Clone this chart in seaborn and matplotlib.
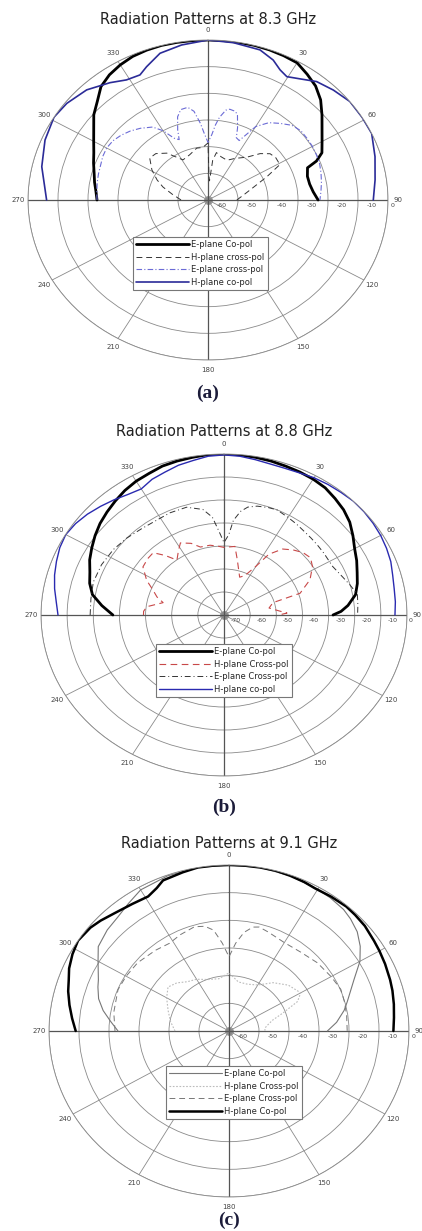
import numpy as np
import matplotlib
matplotlib.use("Agg")
import matplotlib.pyplot as plt
import seaborn as sns

sns.set_style("white")
plt.rcParams['font.family'] = ['DejaVu Sans']

# ---------------- data (angles in degrees, values in dB) ----------------
# (a) 8.3 GHz, radial range -60..0 dB
a_eco_ang = [-90, -85, -80, -75, -70, -65, -60, -55, -50, -45, -40, -35, -30, -25, -20, -15, -10, -5, 0,
             5, 10, 15, 20, 25, 30, 35, 40, 45, 50, 55, 60, 65, 68, 70, 75, 80, 85, 90]
a_eco_db = [-23.0, -22.5, -21.6, -20.7, -19.4, -18.0, -16.0, -13.5, -10.3, -7.8, -4.5, -2.7, -1.5, -0.6, -0.2, 0, 0, 0, 0,
            0, 0, 0, -0.1, -0.3, -0.6, -2.4, -4.2, -6.9, -10.4, -13.6, -16.1, -18.1, -21.0, -24.7, -25.7, -25.6, -24.8, -23.3]

a_hco_ang = [-90, -77.3, -67.5, -58.8, -52.4, -44.4, -36.6, -31.1, -25.8, -22.3, -16.2, -8.6, 0,
             8.2, 17.1, 22.5, 26.2, 29.6, 34, 39.2, 45.4, 52, 58.9, 65.4, 73.7, 82.3, 90]
a_hco_db = [-6.2, -3.2, -1.2, 0, -0.6, -2.2, -5.2, -7.4, -7.9, -6.0, -2.7, -1.2, 0,
            -0.4, -1.1, -3.2, -5.6, -6.8, -5.2, -2.7, -1.3, 0, 0, 0, -2.0, -3.8, -4.9]

a_ex_ang = [-90, -85, -80, -75, -70, -65, -60, -55, -50, -45, -40, -34, -30, -26, -23, -21, -18, -15, -11, -8, -5, -3, 0,
            3, 5, 7, 10, 12, 15, 17, 20, 22, 25, 27, 30, 35, 40, 45, 50, 55, 60, 65, 70, 75, 80, 85, 90]
a_ex_db = [-23.0, -22.8, -22.5, -22.2, -21.9, -21.3, -21.0, -21.3, -22.2, -23.4, -24.9, -27.0, -30.0, -34.2, -35.4, -31.8,
           -27.2, -24.9, -24.6, -26.4, -31.2, -34.8, -38.4,
           -35.4, -31.8, -28.8, -25.8, -25.2, -25.5, -26.4, -31.2, -34.8, -35.4, -33.0, -28.2, -24.6, -22.5, -20.4,
           -19.6, -19.7, -19.8, -20.1, -20.4, -21.0, -21.6, -22.2, -22.7]

a_hx_ang = [-90, -85, -80, -72, -66, -59, -51, -45, -38, -29, -20, -11, -5, 0,
            2, 4, 6, 9, 15, 23, 30, 39, 45, 50, 55, 61, 66, 73, 81, 90]
a_hx_db = [-51.0, -49.8, -48.0, -44.2, -41.4, -38.2, -35.0, -35.4, -37.7, -42.8, -42.0, -40.2, -40.2, -38.6,
           -51.0, -52.8, -45.0, -42.0, -43.2, -43.8, -42.0, -39.3, -35.4, -33.0, -32.4, -32.6, -38.5, -44.4, -48.0, -50.4]

# (b) 8.8 GHz, radial range -70..0 dB
b_eco_ang = [-90, -85, -80, -75, -70, -65, -60, -55, -50, -45, -40, -35, -30, -25, -20, -15, -10, -5, 0,
             5, 10, 15, 20, 25, 30, 35, 40, 45, 50, 55, 60, 65, 70, 75, 80, 85, 88, 90]
b_eco_db = [-27.5, -23.1, -18.9, -16.8, -15.4, -13.3, -11.6, -9.8, -8.1, -6.7, -5.3, -3.9, -2.8, -2.1, -1.1, -0.7, -0.4, 0, 0,
            -0.1, -0.4, -0.7, -1.1, -1.4, -1.8, -2.5, -3.9, -5.3, -7.2, -9.8, -12.3, -14.0, -15.8, -17.2, -18.9, -22.4,
            -25.2, -28.3]

b_hco_ang = [-90, -85, -80, -75, -70, -65, -60, -55, -50, -45, -40, -35, -30, -25, -20, -15, -10, -5, 0,
             5, 10, 15, 20, 25, 30, 35, 40, 45, 50, 55, 60, 65, 70, 75, 80, 85, 90]
b_hco_db = [-6.5, -5.6, -4.2, -2.9, -1.8, -0.7, -0.1, -0.7, -1.8, -3.2, -4.6, -6.0, -6.7, -4.9, -3.9, -2.6, -1.8, -0.7, -0.4,
            -0.7, -1.4, -2.0, -2.1, -1.8, -1.1, -0.7, -0.4, 0, -0.1, -0.4, -0.8, -1.4, -2.1, -3.2, -3.9, -4.2, -4.6]

b_ex_ang = [-90, -82, -74, -65, -56, -48, -40, -32, -25, -17, -10, -6, -3, 0,
            3, 5, 8, 11, 15, 20, 24, 30, 35, 39, 45, 50, 55, 63, 70, 75, 80, 85, 90]
b_ex_db = [-18.8, -18.6, -18.0, -18.3, -19.0, -20.0, -21.0, -21.4, -21.0, -21.0, -23.4, -27.2, -33.6, -38.5,
           -35.0, -28.7, -24.5, -22.2, -21.0, -20.3, -20.0, -21.0, -21.7, -22.3, -22.8, -23.1, -23.3, -23.4,
           -21.7, -20.0, -18.2, -18.6, -18.9]

b_hx_ang = [-90, -87, -83, -77, -73, -68, -63, -56, -50, -45, -41, -37, -32, -28, -22, -17, -10, -5, 0,
            8, 12, 20, 25, 30, 33, 38, 43, 48, 53, 58, 65, 72, 74, 80, 85, 88, 90]
b_hx_db = [-39.2, -39.2, -40.3, -46.1, -43.2, -40.6, -36.8, -32.6, -31.9, -31.7, -35.7, -40.1, -37.1, -34.5, -36.4, -39.1,
           -39.2, -39.9, -40.6, -39.9, -45.5, -52.5, -51.1, -45.5, -38.5, -33.6, -31.3, -29.4, -28.6, -30.1, -33.7,
           -39.4, -50.5, -52.5, -49.0, -45.9, -49.0]

# (c) 9.1 GHz, radial range -60..0 dB
c_hco_ang = [-90, -85, -80, -75, -71, -67, -62, -57, -51, -47, -42, -35, -29, -25, -22, -15, -10, -5, 0,
             5, 10, 15, 20, 25, 29, 35, 41, 45, 50, 56, 60, 65, 71, 75, 80, 85, 90]
c_hco_db = [-8.9, -7.5, -6.0, -4.5, -3.5, -2.1, -0.9, 0, -0.6, -1.5, -2.8, -3.9, -4.4, -3.0, -1.3, -0.6, 0, 0, 0,
            0, 0, 0, -0.3, -0.6, -1.0, -0.7, -0.4, -0.6, -0.9, -1.7, -2.1, -2.6, -3.2, -3.6, -4.2, -4.8, -5.2]

c_eco_ang = [-90, -85, -80, -75, -70, -67, -60, -55, -48, -42, -36, -30, -20, -10, 0,
             10, 20, 30, 35, 41, 45, 50, 55, 60, 66, 70, 75, 79, 85, 90]
c_eco_db = [-23.0, -20.4, -17.4, -15.0, -13.5, -12.7, -9.6, -6.8, -5.4, -4.6, -3.0, -1.1, -0.3, 0, 0,
            0, -0.3, -0.9, -1.2, -1.8, -2.7, -4.2, -6.6, -9.6, -14.4, -16.8, -19.2, -20.9, -24.0, -27.2]

c_ex_ang = [-90, -80, -68, -60, -51, -40, -32, -25, -17, -12, -8, -4, 0,
            4, 8, 12, 15, 20, 30, 40, 50, 60, 68, 75, 82, 90]
c_ex_db = [-22.0, -21.0, -20.1, -20.4, -20.8, -21.9, -22.6, -21.6, -20.6, -21.3, -23.2, -28.2, -33.2,
           -28.2, -24.0, -21.6, -21.1, -21.9, -23.1, -22.8, -21.6, -20.7, -19.8, -20.1, -20.4, -20.6]

c_hx_ang = [-90, -80, -70, -60, -52, -45, -38, -30, -20, -10, 0,
            10, 20, 30, 40, 50, 60, 65, 70, 75, 80, 85, 90]
c_hx_db = [-42.0, -40.2, -38.4, -36.0, -34.2, -35.4, -37.4, -38.4, -40.2, -40.8, -39.0,
           -42.0, -42.0, -40.8, -37.2, -34.2, -32.4, -34.8, -40.8, -45.0, -46.8, -48.0, -48.0]

titles = ["Radiation Patterns at 8.3 GHz", "Radiation Patterns at 8.8 GHz", "Radiation Patterns at 9.1 GHz"]
captions = ["(a)", "(b)", "(c)"]
theta_labels = ["0", "30", "60", "90", "120", "150", "180", "210", "240", "270", "300", "330"]

# ---------------- layout (pixel geometry of the 422x1231 canvas) ----------------
W, H = 422, 1231
fig = plt.figure(figsize=(W / 100, H / 100), dpi=100)

panels = [
    dict(cx=208, cy=200, rx=180, ry=160, rmin=-60, title_y=20, cap_y=393,
         leg=(133, 237), series=[
             (a_eco_ang, a_eco_db, "E-plane Co-pol", dict(color="black", lw=2.0, ls="-")),
             (a_hx_ang, a_hx_db, "H-plane cross-pol", dict(color="#333333", lw=0.7, ls=(0, (6, 4)))),
             (a_ex_ang, a_ex_db, "E-plane cross-pol", dict(color="#6b6bd6", lw=0.8, ls=(0, (5, 2, 1, 2)))),
             (a_hco_ang, a_hco_db, "H-plane co-pol", dict(color="#2b2b98", lw=1.2, ls="-")),
         ]),
    dict(cx=224, cy=615, rx=183, ry=161, rmin=-70, title_y=432, cap_y=807,
         leg=(156, 644), series=[
             (b_eco_ang, b_eco_db, "E-plane Co-pol", dict(color="black", lw=2.0, ls="-")),
             (b_hx_ang, b_hx_db, "H-plane Cross-pol", dict(color="#c84848", lw=0.8, ls=(0, (6, 4)))),
             (b_ex_ang, b_ex_db, "E-plane Cross-pol", dict(color="#333333", lw=0.7, ls=(0, (6, 3, 1, 3)))),
             (b_hco_ang, b_hco_db, "H-plane co-pol", dict(color="#2a2ab0", lw=1.0, ls="-")),
         ]),
    dict(cx=229, cy=1031, rx=180, ry=166, rmin=-60, title_y=843, cap_y=1220,
         leg=(166, 1066), series=[
             (c_eco_ang, c_eco_db, "E-plane Co-pol", dict(color="#777777", lw=0.8, ls="-")),
             (c_hx_ang, c_hx_db, "H-plane Cross-pol", dict(color="#bbbbbb", lw=0.8, ls=(0, (1.5, 1.5)))),
             (c_ex_ang, c_ex_db, "E-plane Cross-pol", dict(color="#777777", lw=0.7, ls=(0, (6, 4)))),
             (c_hco_ang, c_hco_db, "H-plane Co-pol", dict(color="black", lw=1.8, ls="-")),
         ]),
]

grid_col = "#8a8a8a"
for i, p in enumerate(panels):
    left = (p["cx"] - p["rx"]) / W
    bottom = 1 - (p["cy"] + p["ry"]) / H
    ax = fig.add_axes([left, bottom, 2 * p["rx"] / W, 2 * p["ry"] / H], projection="polar")
    ax.set_aspect("auto")
    ax.set_theta_zero_location("N")
    ax.set_theta_direction(-1)
    rmin = p["rmin"]
    ax.set_ylim(rmin, 0)
    ax.set_facecolor("white")

    for ang, db, lab, st in p["series"]:
        sns.lineplot(x=np.deg2rad(ang), y=db, ax=ax, sort=False, estimator=None,
                     color=st["color"], linewidth=st["lw"], linestyle=st["ls"], label=lab)

    # grid
    ax.set_yticks(np.arange(rmin + 10, 1, 10))
    ax.set_yticklabels([])
    ax.set_xticks(np.deg2rad(np.arange(0, 360, 30)))
    ax.set_xticklabels(theta_labels)
    ax.set_xticks(np.deg2rad(np.arange(0, 360, 5)), minor=True)
    ax.grid(True, color=grid_col, lw=0.6)
    ax.tick_params(axis="x", which="major", labelsize=5, pad=0, colors="#444444", length=0)
    ax.tick_params(axis="x", which="minor", bottom=True, length=3, width=0.5, color=grid_col, direction="in")
    ax.spines["polar"].set_color(grid_col)
    ax.spines["polar"].set_linewidth(0.6)
    for t in (0, np.pi / 2, np.pi, 3 * np.pi / 2):
        ax.axvline(t, color="#555555", lw=0.9, zorder=1)

    # radial labels along the 90 deg axis
    for v in np.arange(rmin, 1, 10):
        off = 4.5 if v != 0 else 1.5
        ax.annotate(f"{v:d}", xy=(np.pi / 2, v + off), xytext=(0, -2),
                    textcoords="offset points", ha="center", va="top", fontsize=4.5,
                    color="#444444", annotation_clip=False)

    leg = ax.legend(loc="upper left", bbox_to_anchor=(p["leg"][0] / W, 1 - p["leg"][1] / H),
                    bbox_transform=fig.transFigure, fontsize=6, handlelength=6.3,
                    labelspacing=0.42, borderpad=0.4, handletextpad=0.3, borderaxespad=0,
                    fancybox=False, framealpha=1, edgecolor="#777777")
    leg.get_frame().set_linewidth(0.8)

    fig.text(p["cx"] / W, 1 - p["title_y"] / H, titles[i], ha="center", va="center",
             fontsize=10.5, color="#222222")
    fig.text(p["cx"] / W, 1 - p["cap_y"] / H, captions[i], ha="center", va="center",
             fontsize=14, fontweight="bold", family=["Liberation Serif", "DejaVu Serif"],
             color="#1c1c3a")

fig.savefig("out.png", dpi=100, facecolor="white")
